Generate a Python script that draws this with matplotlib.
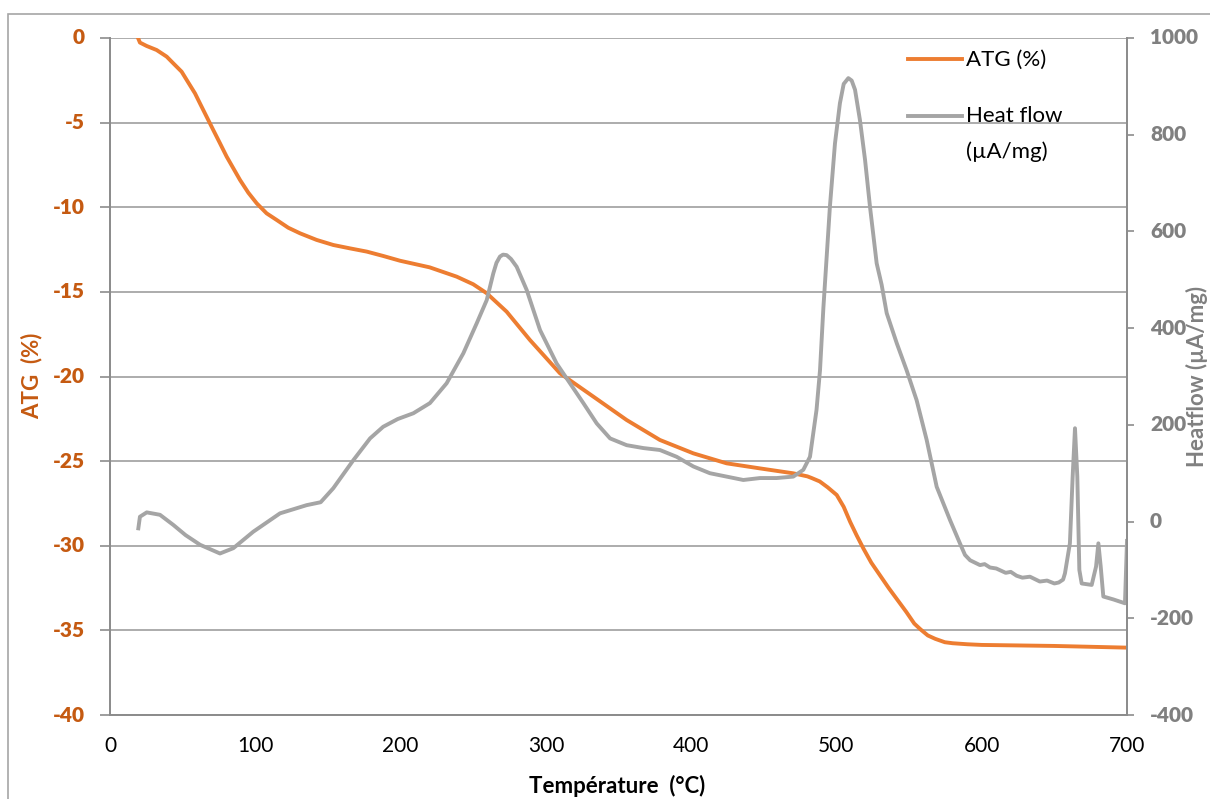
import matplotlib
matplotlib.use("Agg")
import matplotlib.pyplot as plt
from matplotlib.lines import Line2D
from matplotlib.patches import Rectangle
from matplotlib.transforms import offset_copy

plt.rcParams['font.family'] = ['Lato', 'DejaVu Sans']
plt.rcParams['axes.unicode_minus'] = False

# Thermogravimetric curve (ATG, %)
atg_temp = [19.3, 20.6, 25.2, 32.1, 39.0, 43.6, 49.3, 52.8, 58.5, 61.9, 66.5, 71.1,
            75.7, 80.3, 84.9, 89.5, 95.2, 101.0, 107.8, 114.7, 122.7, 130.8, 142.2,
            153.7, 165.2, 176.7, 188.1, 199.6, 220.0, 238.6, 250.0, 259.3, 273.0,
            289.0, 309.7, 332.7, 355.6, 378.5, 401.5, 424.4, 447.4, 470.3, 480.0,
            483.0, 488.5, 494.0, 500.2, 505.0, 509.5, 514.0, 518.8, 524.0, 530.4,
            536.0, 542.0, 548.0, 553.6, 558.0, 562.9, 568.0, 574.6, 580.0, 590.0,
            600.0, 650.0, 700.0]
atg_value = [0.0, -0.27, -0.47, -0.71, -1.10, -1.50, -1.99, -2.48, -3.27, -3.86, -4.65, -5.44,
             -6.22, -7.01, -7.70, -8.39, -9.14, -9.77, -10.36, -10.75, -11.21, -11.54, -11.93,
             -12.23, -12.43, -12.62, -12.88, -13.16, -13.55, -14.10, -14.55, -15.08, -16.17,
             -17.84, -19.81, -21.19, -22.57, -23.75, -24.54, -25.13, -25.43, -25.72, -25.90,
             -26.00, -26.20, -26.55, -27.00, -27.70, -28.60, -29.40, -30.20, -31.00, -31.80,
             -32.50, -33.20, -33.90, -34.60, -34.95, -35.30, -35.50, -35.70, -35.76, -35.82,
             -35.86, -35.92, -36.02]

# Heat flow curve (µA/mg)
hf_temp = [19.5, 20.6, 25.3, 34.4, 43.6, 52.0, 62.0, 75.7, 84.9, 98.6, 117.0, 135.4,
           145.0, 153.7, 167.5, 179.0, 188.0, 198.0, 208.8, 220.2, 231.7, 243.2, 252.4,
           259.3, 263.8, 266.0, 268.4, 270.5, 273.0, 276.0, 279.9, 286.8, 296.0, 307.4,
           316.6, 325.8, 335.0, 344.2, 355.6, 367.1, 378.5, 390.0, 401.5, 412.9, 424.4,
           435.9, 447.4, 458.8, 470.3, 477.2, 481.8, 486.3, 488.7, 491.0, 495.5, 499.0,
           502.4, 505.0, 508.2, 510.5, 512.8, 516.2, 519.7, 523.1, 527.7, 531.1, 534.6,
           541.5, 548.3, 555.2, 562.1, 569.0, 578.2, 585.0, 588.5, 592.0, 598.8, 602.0,
           605.7, 610.0, 616.5, 620.0, 624.0, 628.0, 633.2, 640.0, 645.0, 650.0, 653.0,
           656.0, 657.3, 660.7, 662.6, 664.2, 665.8, 667.2, 668.8, 675.7, 678.7, 680.3,
           681.9, 683.7, 690.6, 698.6, 700.0]
hf_value = [-14, 10, 19, 14, -7, -28, -48, -66, -55, -21, 17, 34,
            40, 69, 127, 172, 196, 212, 224, 245, 286, 348, 410,
            458, 513, 535, 548, 552, 551, 543, 527, 479, 396, 327,
            286, 245, 203, 172, 158, 152, 148, 134, 114, 100, 93,
            86, 90, 90, 93, 107, 134, 231, 313, 441, 651, 782,
            865, 905, 917, 912, 893, 830, 748, 651, 534, 490, 431,
            369, 313, 251, 169, 72, 3, -45, -69, -80, -90, -88,
            -95, -97, -106, -104, -112, -116, -114, -124, -122, -128, -126,
            -120, -107, -45, 93, 193, 93, -100, -128, -131, -93, -45,
            -93, -155, -161, -169, -40]

x_ticks = [0, 100, 200, 300, 400, 500, 600, 700]
left_ticks = [0, -5, -10, -15, -20, -25, -30, -35, -40]
right_ticks = [1000, 800, 600, 400, 200, 0, -200, -400]

ORANGE = '#ED7D31'
ORANGE_TXT = '#C55A11'
GREY = '#A5A5A5'
GREY_TXT = '#808080'
GRID = '#A6A6A6'

W, H = 1210, 799
fig = plt.figure(figsize=(W / 100, H / 100), dpi=100)

# outer chart frame
fig.add_artist(Rectangle((8 / W, -0.05), 1.1, 1 - 14 / H + 0.05,
                         transform=fig.transFigure, fill=False,
                         edgecolor='#A6A6A6', linewidth=1.2, clip_on=False))

ax = fig.add_axes([110 / W, 1 - 715 / H, (1127 - 110) / W, (715 - 38) / H])
ax2 = ax.twinx()

ax.set_xlim(0, 700)
ax.set_ylim(-40, 0)
ax2.set_ylim(-400, 1000)

ax.set_xticks(x_ticks, [str(v) for v in x_ticks])
ax.set_yticks(left_ticks)
ax2.set_yticks(right_ticks)
ax.grid(axis='y', color=GRID, linewidth=1.3)
ax.set_axisbelow(True)

for a in (ax, ax2):
    for s in a.spines.values():
        s.set_color('#8C8C8C')
        s.set_linewidth(1.3)
    a.spines['top'].set_visible(False)

ax.tick_params(axis='y', length=7, width=1.2, color='#8C8C8C', labelleft=False)
ax.tick_params(axis='x', length=0, pad=15, labelsize=15, labelcolor='black')
ax2.tick_params(axis='y', length=5, width=1.2, color='#8C8C8C', labelright=False)

# heavy value labels beside each vertical axis, placed at the tick values
left_tr = offset_copy(ax.get_yaxis_transform(), fig=fig, x=-25, y=0, units='dots')
for v in left_ticks:
    ax.text(0, v, str(v), transform=left_tr, ha='right', va='center',
            fontsize=15, fontweight='heavy', color=ORANGE_TXT, clip_on=False)
right_tr = offset_copy(ax2.get_yaxis_transform(), fig=fig, x=23, y=0, units='dots')
for v in right_ticks:
    ax2.text(1, v, str(v), transform=right_tr, ha='left', va='center',
             fontsize=15, fontweight='heavy', color=GREY_TXT, clip_on=False)

ax.plot(atg_temp, atg_value, color=ORANGE, linewidth=2.8, solid_joinstyle='round')
ax2.plot(hf_temp, hf_value, color=GREY, linewidth=2.8, solid_joinstyle='round')

# axis titles
fig.text(617 / W, 1 - 786 / H, 'Température  (°C)', ha='center', va='center',
         fontsize=16, fontweight='bold', color='black')
fig.text(32 / W, 1 - 376 / H, 'ATG  (%)', ha='center', va='center', rotation=90,
         fontsize=16, fontweight='bold', color=ORANGE_TXT)
fig.text(1197 / W, 1 - 376 / H, 'Heatflow (µA/mg)', ha='center', va='center',
         rotation=90, fontsize=16, fontweight='bold', color=GREY_TXT)

# legend
fig.add_artist(Line2D([908 / W, 962 / W], [1 - 59 / H, 1 - 59 / H], color=ORANGE,
                      linewidth=2.8, transform=fig.transFigure))
fig.add_artist(Line2D([908 / W, 962 / W], [1 - 116 / H, 1 - 116 / H], color=GREY,
                      linewidth=2.8, transform=fig.transFigure))
fig.text(966 / W, 1 - 60 / H, 'ATG (%)', ha='left', va='center', fontsize=16)
fig.text(966 / W, 1 - 116 / H, 'Heat flow', ha='left', va='center', fontsize=16)
fig.text(966 / W, 1 - 152 / H, '(µA/mg)', ha='left', va='center', fontsize=16)

fig.savefig('out.png', dpi=100)
